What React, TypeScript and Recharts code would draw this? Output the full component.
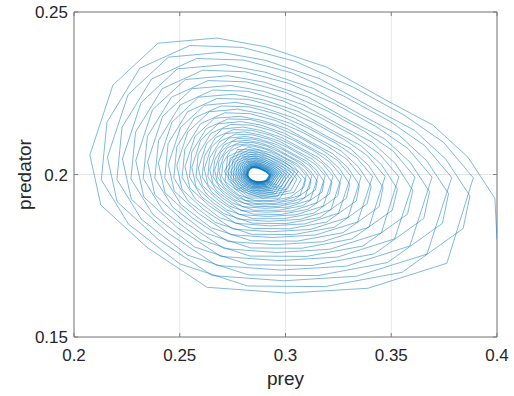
import React from 'react';
import { LineChart, Line, XAxis, YAxis, CartesianGrid, ReferenceLine, Label } from 'recharts';

const xTicks = [0.2, 0.25, 0.3, 0.35, 0.4];
const yTicks = [0.15, 0.2, 0.25];
const xTickLabels = ['0.2', '0.25', '0.3', '0.35', '0.4'];
const yTickLabels = ['0.15', '0.2', '0.25'];
const xLabel = 'prey';
const yLabel = 'predator';

// prey (x) values of the trajectory, in drawing order
const prey = [
  0.4000,
  0.3990, 0.3863, 0.3697, 0.3475, 0.3196, 0.2912, 0.2676, 0.2397, 0.2184, 0.2075, 0.2127, 0.2345, 0.2629, 0.3007, 0.3390, 0.3763,
  0.3888, 0.3747, 0.3560, 0.3319, 0.3047, 0.2797, 0.2548, 0.2311, 0.2156, 0.2129, 0.2258, 0.2500, 0.2820, 0.3186, 0.3551, 0.3840,
  0.3872, 0.3758, 0.3610, 0.3411, 0.3161, 0.2907, 0.2696, 0.2446, 0.2256, 0.2158, 0.2204, 0.2400, 0.2654, 0.2992, 0.3335, 0.3669,
  0.3786, 0.3658, 0.3490, 0.3273, 0.3029, 0.2804, 0.2580, 0.2367, 0.2227, 0.2203, 0.2319, 0.2537, 0.2824, 0.3154, 0.3482, 0.3742,
  0.3771, 0.3668, 0.3535, 0.3356, 0.3131, 0.2903, 0.2713, 0.2488, 0.2317, 0.2229, 0.2271, 0.2446, 0.2675, 0.2979, 0.3288, 0.3588,
  0.3693, 0.3579, 0.3427, 0.3232, 0.3013, 0.2810, 0.2609, 0.2417, 0.2291, 0.2269, 0.2374, 0.2570, 0.2828, 0.3125, 0.3420, 0.3654,
  0.3681, 0.3589, 0.3468, 0.3307, 0.3105, 0.2899, 0.2728, 0.2526, 0.2371, 0.2292, 0.2330, 0.2488, 0.2694, 0.2968, 0.3246, 0.3516,
  0.3612, 0.3509, 0.3372, 0.3196, 0.2998, 0.2815, 0.2634, 0.2461, 0.2347, 0.2327, 0.2422, 0.2599, 0.2832, 0.3100, 0.3366, 0.3577,
  0.3602, 0.3519, 0.3410, 0.3265, 0.3082, 0.2896, 0.2741, 0.2558, 0.2419, 0.2348, 0.2382, 0.2524, 0.2710, 0.2958, 0.3209, 0.3453,
  0.3536, 0.3443, 0.3321, 0.3163, 0.2985, 0.2820, 0.2657, 0.2502, 0.2400, 0.2382, 0.2467, 0.2626, 0.2835, 0.3076, 0.3315, 0.3505,
  0.3529, 0.3454, 0.3356, 0.3225, 0.3060, 0.2893, 0.2753, 0.2589, 0.2463, 0.2399, 0.2430, 0.2558, 0.2726, 0.2949, 0.3175, 0.3395,
  0.3471, 0.3387, 0.3277, 0.3134, 0.2973, 0.2825, 0.2677, 0.2537, 0.2445, 0.2429, 0.2505, 0.2649, 0.2838, 0.3055, 0.3272, 0.3443,
  0.3461, 0.3394, 0.3306, 0.3188, 0.3040, 0.2890, 0.2765, 0.2617, 0.2504, 0.2446, 0.2474, 0.2589, 0.2740, 0.2940, 0.3143, 0.3341,
  0.3412, 0.3336, 0.3236, 0.3107, 0.2962, 0.2829, 0.2696, 0.2569, 0.2486, 0.2472, 0.2541, 0.2670, 0.2841, 0.3037, 0.3232, 0.3386,
  0.3405, 0.3344, 0.3264, 0.3158, 0.3024, 0.2888, 0.2774, 0.2640, 0.2538, 0.2486, 0.2511, 0.2615, 0.2752, 0.2933, 0.3117, 0.3296,
  0.3358, 0.3290, 0.3199, 0.3083, 0.2953, 0.2832, 0.2713, 0.2598, 0.2524, 0.2511, 0.2573, 0.2689, 0.2843, 0.3020, 0.3195, 0.3335,
  0.3349, 0.3294, 0.3223, 0.3127, 0.3007, 0.2885, 0.2784, 0.2664, 0.2572, 0.2525, 0.2548, 0.2641, 0.2764, 0.2926, 0.3091, 0.3251,
  0.3309, 0.3248, 0.3166, 0.3062, 0.2944, 0.2835, 0.2728, 0.2625, 0.2557, 0.2546, 0.2602, 0.2707, 0.2845, 0.3004, 0.3163, 0.3288,
  0.3304, 0.3254, 0.3189, 0.3103, 0.2994, 0.2883, 0.2791, 0.2682, 0.2599, 0.2557, 0.2577, 0.2662, 0.2773, 0.2920, 0.3070, 0.3215,
  0.3266, 0.3210, 0.3137, 0.3043, 0.2936, 0.2838, 0.2741, 0.2648, 0.2587, 0.2577, 0.2627, 0.2722, 0.2847, 0.2991, 0.3134, 0.3247,
  0.3259, 0.3214, 0.3156, 0.3079, 0.2981, 0.2881, 0.2799, 0.2701, 0.2627, 0.2588, 0.2607, 0.2683, 0.2782, 0.2915, 0.3049, 0.3179,
  0.3225, 0.3175, 0.3109, 0.3024, 0.2929, 0.2841, 0.2754, 0.2670, 0.2616, 0.2606, 0.2652, 0.2737, 0.2849, 0.2978, 0.3106, 0.3208,
  0.3219, 0.3179, 0.3127, 0.3057, 0.2969, 0.2880, 0.2805, 0.2718, 0.2650, 0.2616, 0.2633, 0.2701, 0.2791, 0.2910, 0.3030, 0.3148,
  0.3188, 0.3143, 0.3084, 0.3008, 0.2923, 0.2844, 0.2765, 0.2690, 0.2641, 0.2633, 0.2674, 0.2750, 0.2851, 0.2966, 0.3081, 0.3173,
  0.3182, 0.3146, 0.3100, 0.3037, 0.2958, 0.2878, 0.2812, 0.2733, 0.2673, 0.2642, 0.2657, 0.2718, 0.2798, 0.2905, 0.3013, 0.3118,
  0.3154, 0.3114, 0.3061, 0.2993, 0.2917, 0.2846, 0.2776, 0.2709, 0.2665, 0.2657, 0.2694, 0.2762, 0.2852, 0.2956, 0.3059, 0.3141,
  0.3150, 0.3117, 0.3075, 0.3019, 0.2949, 0.2877, 0.2817, 0.2747, 0.2693, 0.2665, 0.2678, 0.2733, 0.2805, 0.2901, 0.2998, 0.3092,
  0.3125, 0.3089, 0.3041, 0.2980, 0.2911, 0.2848, 0.2785, 0.2724, 0.2685, 0.2678, 0.2711, 0.2772, 0.2853, 0.2947, 0.3039, 0.3113,
  0.3120, 0.3092, 0.3054, 0.3003, 0.2940, 0.2876, 0.2822, 0.2759, 0.2710, 0.2686, 0.2697, 0.2747, 0.2811, 0.2897, 0.2984, 0.3069,
  0.3098, 0.3066, 0.3023, 0.2968, 0.2906, 0.2850, 0.2793, 0.2739, 0.2704, 0.2698, 0.2727, 0.2782, 0.2855, 0.2938, 0.3021, 0.3087,
  0.3095, 0.3035, 0.2933, 0.2826, 0.2726, 0.2714, 0.2817, 0.2972,
  0.3060, 0.2984, 0.2874, 0.2774, 0.2711, 0.2764, 0.2893, 0.3040,
  0.3074, 0.3020, 0.2927, 0.2830, 0.2738, 0.2728, 0.2821, 0.2963,
  0.3042, 0.2973, 0.2873, 0.2782, 0.2725, 0.2773, 0.2890, 0.3024,
  0.3054, 0.3005, 0.2921, 0.2833, 0.2751, 0.2741, 0.2825, 0.2953,
  0.3025, 0.2963, 0.2873, 0.2790, 0.2739, 0.2782, 0.2888, 0.3009,
  0.3036, 0.2991, 0.2915, 0.2836, 0.2761, 0.2753, 0.2829, 0.2945,
  0.3009, 0.2953, 0.2872, 0.2798, 0.2751, 0.2790, 0.2885, 0.2994,
  0.3019, 0.2979, 0.2910, 0.2839, 0.2772, 0.2764, 0.2833, 0.2937,
  0.2995, 0.2944, 0.2871, 0.2804, 0.2762, 0.2797, 0.2883, 0.2982,
  0.3003, 0.2967, 0.2906, 0.2842, 0.2781, 0.2774, 0.2836, 0.2930,
  0.2982, 0.2936, 0.2870, 0.2810, 0.2773, 0.2804, 0.2882, 0.2970,
  0.2990, 0.2957, 0.2902, 0.2844, 0.2789, 0.2783, 0.2839, 0.2923,
  0.2970, 0.2929, 0.2870, 0.2816, 0.2782, 0.2810, 0.2880, 0.2959,
  0.2978, 0.2948, 0.2898, 0.2846, 0.2797, 0.2791, 0.2841, 0.2918,
  0.2960, 0.2923, 0.2869, 0.2821, 0.2790, 0.2816, 0.2878, 0.2950,
  0.2966, 0.2940, 0.2895, 0.2848, 0.2804, 0.2799, 0.2844, 0.2912,
  0.2951, 0.2917, 0.2869, 0.2825, 0.2797, 0.2820, 0.2877, 0.2942,
  0.2957, 0.2933, 0.2892, 0.2850, 0.2809, 0.2804, 0.2846, 0.2908,
  0.2943, 0.2913, 0.2869, 0.2828, 0.2803, 0.2824, 0.2876, 0.2935,
  0.2949, 0.2927, 0.2890, 0.2851, 0.2814, 0.2810, 0.2847, 0.2904,
  0.2937, 0.2909, 0.2868, 0.2831, 0.2808, 0.2828, 0.2875, 0.2930,
  0.2943, 0.2922, 0.2888, 0.2852, 0.2818, 0.2814, 0.2849, 0.2901,
  0.2931, 0.2905, 0.2868, 0.2834, 0.2813, 0.2831, 0.2874, 0.2924,
  0.2937, 0.2918, 0.2886, 0.2853, 0.2821, 0.2818, 0.2850, 0.2899,
  0.2927, 0.2903, 0.2868, 0.2836, 0.2816, 0.2833, 0.2874, 0.2921,
  0.2930, 0.2921, 0.2909, 0.2894, 0.2877, 0.2861, 0.2845, 0.2830, 0.2820, 0.2818, 0.2826, 0.2842, 0.2862, 0.2885, 0.2909, 0.2927,
  0.2930, 0.2923, 0.2913, 0.2900, 0.2884, 0.2868, 0.2854, 0.2838, 0.2826, 0.2819, 0.2822, 0.2835, 0.2851, 0.2873, 0.2895, 0.2917,
  0.2926, 0.2917, 0.2906, 0.2892, 0.2876, 0.2861, 0.2846, 0.2832, 0.2823, 0.2821, 0.2829, 0.2843, 0.2862, 0.2884, 0.2906, 0.2923,
  0.2927, 0.2920, 0.2911, 0.2899, 0.2883, 0.2868, 0.2855, 0.2839, 0.2828, 0.2822, 0.2824, 0.2836, 0.2852, 0.2873, 0.2894, 0.2914,
  0.2923, 0.2915, 0.2905, 0.2891, 0.2875, 0.2861, 0.2847, 0.2833, 0.2824, 0.2823, 0.2830, 0.2844, 0.2862, 0.2883, 0.2904, 0.2921,
  0.2925,
];

// predator (y) values of the trajectory, same order as prey
const predator = [
  0.1800,
  0.1927, 0.2053, 0.2152, 0.2229, 0.2330, 0.2392, 0.2420, 0.2404, 0.2275, 0.2060, 0.1906, 0.1776, 0.1653, 0.1635, 0.1650, 0.1727,
  0.1990, 0.2099, 0.2183, 0.2269, 0.2348, 0.2391, 0.2397, 0.2327, 0.2161, 0.1984, 0.1847, 0.1725, 0.1657, 0.1655, 0.1699, 0.1834,
  0.1934, 0.2047, 0.2136, 0.2205, 0.2295, 0.2351, 0.2376, 0.2361, 0.2246, 0.2053, 0.1916, 0.1799, 0.1689, 0.1673, 0.1687, 0.1755,
  0.1991, 0.2089, 0.2165, 0.2242, 0.2313, 0.2352, 0.2357, 0.2294, 0.2145, 0.1985, 0.1862, 0.1752, 0.1691, 0.1689, 0.1729, 0.1850,
  0.1941, 0.2042, 0.2122, 0.2184, 0.2265, 0.2315, 0.2338, 0.2325, 0.2221, 0.2048, 0.1924, 0.1819, 0.1720, 0.1706, 0.1718, 0.1780,
  0.1992, 0.2080, 0.2148, 0.2218, 0.2281, 0.2316, 0.2321, 0.2264, 0.2130, 0.1987, 0.1876, 0.1777, 0.1722, 0.1720, 0.1756, 0.1865,
  0.1947, 0.2038, 0.2110, 0.2165, 0.2239, 0.2284, 0.2304, 0.2292, 0.2199, 0.2043, 0.1931, 0.1837, 0.1748, 0.1735, 0.1746, 0.1802,
  0.1992, 0.2072, 0.2133, 0.2196, 0.2253, 0.2285, 0.2289, 0.2238, 0.2117, 0.1988, 0.1888, 0.1799, 0.1749, 0.1748, 0.1780, 0.1878,
  0.1951, 0.2034, 0.2099, 0.2149, 0.2215, 0.2256, 0.2274, 0.2264, 0.2179, 0.2039, 0.1938, 0.1853, 0.1772, 0.1760, 0.1770, 0.1820,
  0.1993, 0.2064, 0.2120, 0.2176, 0.2227, 0.2256, 0.2260, 0.2214, 0.2105, 0.1989, 0.1899, 0.1819, 0.1774, 0.1773, 0.1802, 0.1890,
  0.1956, 0.2030, 0.2089, 0.2134, 0.2194, 0.2230, 0.2247, 0.2238, 0.2161, 0.2035, 0.1944, 0.1867, 0.1794, 0.1784, 0.1793, 0.1838,
  0.1994, 0.2058, 0.2108, 0.2159, 0.2205, 0.2231, 0.2234, 0.2193, 0.2095, 0.1990, 0.1908, 0.1836, 0.1796, 0.1795, 0.1821, 0.1901,
  0.1960, 0.2027, 0.2080, 0.2120, 0.2174, 0.2207, 0.2222, 0.2213, 0.2145, 0.2031, 0.1949, 0.1880, 0.1815, 0.1806, 0.1814, 0.1854,
  0.1994, 0.2052, 0.2097, 0.2143, 0.2185, 0.2208, 0.2211, 0.2174, 0.2085, 0.1990, 0.1917, 0.1852, 0.1816, 0.1815, 0.1838, 0.1910,
  0.1964, 0.2024, 0.2072, 0.2109, 0.2157, 0.2187, 0.2201, 0.2193, 0.2131, 0.2028, 0.1954, 0.1891, 0.1832, 0.1824, 0.1831, 0.1868,
  0.1994, 0.2047, 0.2087, 0.2129, 0.2166, 0.2187, 0.2190, 0.2156, 0.2077, 0.1991, 0.1925, 0.1867, 0.1834, 0.1833, 0.1854, 0.1919,
  0.1967, 0.2022, 0.2064, 0.2097, 0.2141, 0.2167, 0.2179, 0.2173, 0.2117, 0.2025, 0.1958, 0.1903, 0.1850, 0.1842, 0.1848, 0.1881,
  0.1995, 0.2042, 0.2078, 0.2116, 0.2150, 0.2169, 0.2171, 0.2141, 0.2069, 0.1992, 0.1932, 0.1880, 0.1850, 0.1849, 0.1868, 0.1927,
  0.1970, 0.2019, 0.2058, 0.2088, 0.2127, 0.2152, 0.2163, 0.2156, 0.2106, 0.2022, 0.1962, 0.1911, 0.1863, 0.1856, 0.1862, 0.1892,
  0.1995, 0.2038, 0.2071, 0.2104, 0.2135, 0.2152, 0.2154, 0.2127, 0.2062, 0.1992, 0.1939, 0.1891, 0.1864, 0.1864, 0.1881, 0.1934,
  0.1973, 0.2017, 0.2052, 0.2079, 0.2114, 0.2136, 0.2146, 0.2140, 0.2095, 0.2020, 0.1966, 0.1920, 0.1877, 0.1871, 0.1876, 0.1903,
  0.1995, 0.2034, 0.2063, 0.2093, 0.2121, 0.2136, 0.2138, 0.2114, 0.2055, 0.1993, 0.1945, 0.1902, 0.1878, 0.1877, 0.1893, 0.1940,
  0.1976, 0.2015, 0.2047, 0.2071, 0.2103, 0.2122, 0.2131, 0.2126, 0.2085, 0.2018, 0.1969, 0.1928, 0.1889, 0.1884, 0.1888, 0.1913,
  0.1996, 0.2030, 0.2056, 0.2084, 0.2108, 0.2122, 0.2124, 0.2102, 0.2050, 0.1994, 0.1950, 0.1912, 0.1890, 0.1890, 0.1904, 0.1946,
  0.1978, 0.2014, 0.2041, 0.2063, 0.2092, 0.2109, 0.2117, 0.2112, 0.2076, 0.2015, 0.1972, 0.1935, 0.1901, 0.1896, 0.1900, 0.1922,
  0.1996, 0.2027, 0.2050, 0.2075, 0.2097, 0.2109, 0.2111, 0.2091, 0.2044, 0.1994, 0.1955, 0.1921, 0.1902, 0.1901, 0.1914, 0.1952,
  0.1980, 0.2012, 0.2037, 0.2056, 0.2082, 0.2098, 0.2105, 0.2101, 0.2068, 0.2014, 0.1975, 0.1942, 0.1911, 0.1906, 0.1910, 0.1929,
  0.1996, 0.2024, 0.2045, 0.2067, 0.2087, 0.2098, 0.2099, 0.2082, 0.2040, 0.1994, 0.1960, 0.1929, 0.1911, 0.1911, 0.1922, 0.1956,
  0.1982, 0.2010, 0.2033, 0.2050, 0.2073, 0.2087, 0.2094, 0.2090, 0.2061, 0.2012, 0.1977, 0.1948, 0.1920, 0.1916, 0.1919, 0.1936,
  0.1996, 0.2021, 0.2040, 0.2060, 0.2078, 0.2087, 0.2089, 0.2073, 0.2035, 0.1995, 0.1964, 0.1936, 0.1920, 0.1920, 0.1930, 0.1961,
  0.1984, 0.2029, 0.2066, 0.2084, 0.2055, 0.1979, 0.1928, 0.1927,
  0.2009, 0.2043, 0.2075, 0.2077, 0.2010, 0.1955, 0.1927, 0.1945,
  0.1985, 0.2027, 0.2060, 0.2076, 0.2050, 0.1981, 0.1934, 0.1933,
  0.2008, 0.2039, 0.2068, 0.2070, 0.2009, 0.1959, 0.1934, 0.1950,
  0.1986, 0.2024, 0.2054, 0.2069, 0.2045, 0.1983, 0.1940, 0.1940,
  0.2007, 0.2035, 0.2061, 0.2063, 0.2008, 0.1962, 0.1940, 0.1955,
  0.1987, 0.2021, 0.2048, 0.2062, 0.2040, 0.1984, 0.1946, 0.1945,
  0.2006, 0.2031, 0.2055, 0.2056, 0.2007, 0.1966, 0.1946, 0.1959,
  0.1988, 0.2019, 0.2043, 0.2056, 0.2036, 0.1985, 0.1951, 0.1950,
  0.2005, 0.2028, 0.2049, 0.2051, 0.2006, 0.1969, 0.1951, 0.1963,
  0.1989, 0.2017, 0.2039, 0.2050, 0.2032, 0.1987, 0.1956, 0.1955,
  0.2004, 0.2025, 0.2044, 0.2046, 0.2005, 0.1972, 0.1956, 0.1966,
  0.1990, 0.2015, 0.2035, 0.2045, 0.2029, 0.1988, 0.1960, 0.1959,
  0.2004, 0.2022, 0.2039, 0.2041, 0.2005, 0.1975, 0.1960, 0.1970,
  0.1991, 0.2013, 0.2031, 0.2040, 0.2026, 0.1989, 0.1963, 0.1963,
  0.2003, 0.2020, 0.2035, 0.2037, 0.2004, 0.1977, 0.1964, 0.1972,
  0.1992, 0.2012, 0.2028, 0.2036, 0.2023, 0.1990, 0.1967, 0.1967,
  0.2003, 0.2018, 0.2032, 0.2033, 0.2003, 0.1979, 0.1967, 0.1975,
  0.1992, 0.2011, 0.2025, 0.2033, 0.2021, 0.1990, 0.1970, 0.1969,
  0.2002, 0.2016, 0.2029, 0.2030, 0.2003, 0.1981, 0.1970, 0.1977,
  0.1993, 0.2010, 0.2023, 0.2030, 0.2019, 0.1991, 0.1972, 0.1972,
  0.2002, 0.2015, 0.2026, 0.2027, 0.2002, 0.1982, 0.1972, 0.1978,
  0.1993, 0.2009, 0.2021, 0.2027, 0.2017, 0.1992, 0.1974, 0.1974,
  0.2002, 0.2013, 0.2024, 0.2025, 0.2002, 0.1983, 0.1974, 0.1980,
  0.1993, 0.2008, 0.2019, 0.2025, 0.2016, 0.1992, 0.1976, 0.1976,
  0.2001, 0.2012, 0.2022, 0.2023, 0.2002, 0.1984, 0.1975, 0.1981,
  0.1998, 0.2004, 0.2010, 0.2015, 0.2020, 0.2023, 0.2023, 0.2019, 0.2008, 0.1997, 0.1988, 0.1981, 0.1976, 0.1976, 0.1979, 0.1988,
  0.1994, 0.2001, 0.2007, 0.2011, 0.2017, 0.2021, 0.2022, 0.2022, 0.2014, 0.2002, 0.1993, 0.1985, 0.1978, 0.1977, 0.1978, 0.1982,
  0.1998, 0.2004, 0.2009, 0.2014, 0.2019, 0.2021, 0.2022, 0.2017, 0.2008, 0.1997, 0.1989, 0.1982, 0.1978, 0.1978, 0.1980, 0.1988,
  0.1994, 0.2001, 0.2006, 0.2011, 0.2016, 0.2020, 0.2021, 0.2020, 0.2013, 0.2001, 0.1993, 0.1986, 0.1979, 0.1978, 0.1979, 0.1983,
  0.1998, 0.2004, 0.2009, 0.2013, 0.2018, 0.2020, 0.2021, 0.2017, 0.2007, 0.1997, 0.1989, 0.1982, 0.1979, 0.1978, 0.1981, 0.1989,
  0.1994,
];

const data = prey.map((p, i) => ({ prey: p, predator: predator[i] }));

const W = 514;
const H = 396;
const PLOT_LEFT = 74;
const PLOT_RIGHT = 497;
const PLOT_TOP = 12;
const PLOT_BOTTOM = 337;
const TICK_LEN = 4;
const TEXT = '#262626';
const AXIS = '#7d7d7d';
const FONT = '"Liberation Sans", Arial, Helvetica, sans-serif';

const XTick = (props: any) => {
  const { x, y, payload } = props;
  const i = xTicks.indexOf(payload.value);
  const label = i >= 0 ? xTickLabels[i] : String(payload.value);
  return (
    <g>
      <line x1={x} x2={x} y1={PLOT_BOTTOM} y2={PLOT_BOTTOM - TICK_LEN} stroke={AXIS} strokeWidth={1} />
      <line x1={x} x2={x} y1={PLOT_TOP} y2={PLOT_TOP + TICK_LEN} stroke={AXIS} strokeWidth={1} />
      <text x={x} y={y} dy="0.71em" textAnchor="middle" fontSize={17} fill={TEXT} fontFamily={FONT}>
        {label}
      </text>
    </g>
  );
};

const YTick = (props: any) => {
  const { x, y, payload } = props;
  const i = yTicks.indexOf(payload.value);
  const label = i >= 0 ? yTickLabels[i] : String(payload.value);
  return (
    <g>
      <line x1={PLOT_LEFT} x2={PLOT_LEFT + TICK_LEN} y1={y} y2={y} stroke={AXIS} strokeWidth={1} />
      <line x1={PLOT_RIGHT} x2={PLOT_RIGHT - TICK_LEN} y1={y} y2={y} stroke={AXIS} strokeWidth={1} />
      <text x={x} y={y} dy="0.355em" textAnchor="end" fontSize={17} fill={TEXT} fontFamily={FONT}>
        {label}
      </text>
    </g>
  );
};

export default function App() {
  return (
    <div style={{ position: 'absolute', left: 0, top: 0, width: W, height: H, background: '#ffffff' }}>
      <LineChart
        width={W}
        height={H}
        data={data}
        margin={{ top: PLOT_TOP, right: W - PLOT_RIGHT, bottom: 0, left: 0 }}
      >
        <CartesianGrid stroke="#e8e8e8" strokeWidth={1} />
        <XAxis
          type="number"
          dataKey="prey"
          domain={[0.2, 0.4]}
          ticks={xTicks}
          interval={0}
          allowDataOverflow
          height={H - PLOT_BOTTOM}
          axisLine={{ stroke: AXIS, strokeWidth: 1 }}
          tickLine={false}
          tickSize={0}
          tickMargin={12}
          tick={(p: any) => <XTick {...p} />}
        >
          <Label value={xLabel} position="insideBottom" offset={11} fill={TEXT} fontSize={19} fontFamily={FONT} />
        </XAxis>
        <YAxis
          type="number"
          domain={[0.15, 0.25]}
          ticks={yTicks}
          interval={0}
          allowDataOverflow
          width={PLOT_LEFT}
          axisLine={{ stroke: AXIS, strokeWidth: 1 }}
          tickLine={false}
          tickSize={0}
          tickMargin={6}
          tick={(p: any) => <YTick {...p} />}
        >
          <Label value={yLabel} position="center" angle={-90} dx={-13} fill={TEXT} fontSize={19} fontFamily={FONT} />
        </YAxis>
        <ReferenceLine x={0.4} stroke={AXIS} strokeWidth={1} />
        <ReferenceLine y={0.25} stroke={AXIS} strokeWidth={1} />
        <Line
          type="linear"
          dataKey="predator"
          stroke="#0072BD"
          strokeWidth={0.5}
          dot={false}
          activeDot={false}
          isAnimationActive={false}
        />
      </LineChart>
    </div>
  );
}
